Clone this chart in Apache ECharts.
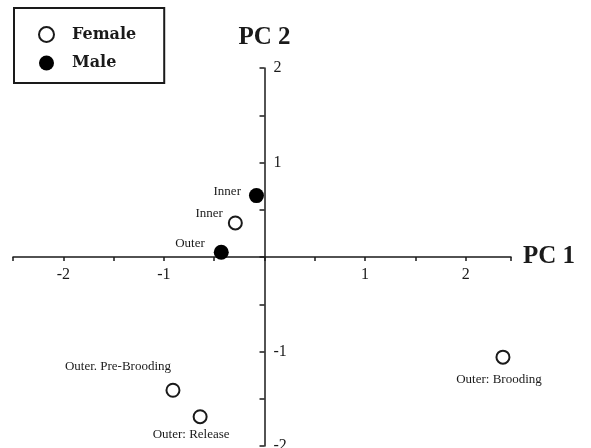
<!DOCTYPE html>
<html>
<head>
<meta charset="utf-8">
<script src="https://cdn.jsdelivr.net/npm/echarts@6/dist/echarts.min.js"></script>
<style>
  html, body { margin: 0; padding: 0; background: #fff; }
  #chart { width: 591px; height: 448px; }
</style>
</head>
<body>
<div id="chart"></div>
<script>
// PCA scores
const femaleNames = ['Inner', 'Outer. Pre-Brooding', 'Outer: Release', 'Outer: Brooding']
const femaleX = [-0.29, -0.91, -0.64, 2.37]
const femaleY = [0.36, -1.41, -1.69, -1.06]

const maleNames = ['Inner', 'Outer']
const maleX = [-0.08, -0.43]
const maleY = [0.65, 0.05]

// where each point's caption sits
const femaleLabelPos = [
  { position: 'left', distance: 5, offset: [0, -9] },
  { position: 'top', distance: 10, offset: [-55, 0] },
  { position: 'bottom', distance: 4, offset: [-9, 0] },
  { position: 'bottom', distance: 8, offset: [-4, 0] }
]
const maleLabelPos = [
  { position: 'left', distance: 8, offset: [0, -4] },
  { position: 'left', distance: 9, offset: [0, -9] }
]

const serif = '"Liberation Serif", "Times New Roman", serif'
const ink = '#1a1a1a'

// plot box in pixels; axes cross at (0, 0) inside it
const gridBox = { left: 13, right: 80, top: 68, bottom: 2 }
const xMin = -2.5, xMax = 2.45, yMin = -2, yMax = 2
const plotW = 591 - gridBox.left - gridBox.right
const plotH = 448 - gridBox.top - gridBox.bottom
const xAxisShift = -plotH * (0 - yMin) / (yMax - yMin)
const yAxisShift = -plotW * (0 - xMin) / (xMax - xMin)

const buildData = (names, xs, ys, pos) =>
  names.map((name, i) => ({
    name,
    value: [xs[i], ys[i]],
    label: { show: true, formatter: name, ...pos[i] }
  }))

const tickFormatter = v => (Number.isInteger(v) && v !== 0 ? String(v) : '')

const chart = echarts.init(document.getElementById('chart'))

chart.setOption({
  backgroundColor: '#fff',
  animation: false,
  legend: {
    orient: 'vertical',
    left: 14,
    top: 8,
    padding: [18, 28, 12, 24],
    itemGap: 12,
    itemWidth: 15,
    itemHeight: 15,
    borderColor: ink,
    borderWidth: 2,
    data: ['Female', 'Male'],
    textStyle: { fontFamily: '"DejaVu Serif", serif', fontWeight: 'bold', fontSize: 16, color: ink, padding: [0, 0, 0, 13] }
  },
  grid: { ...gridBox, containLabel: false, outerBoundsMode: 'none' },
  xAxis: {
    type: 'value',
    min: xMin,
    max: xMax,
    interval: 0.5,
    offset: xAxisShift,
    name: 'PC 1',
    nameLocation: 'end',
    nameGap: 12,
    nameTextStyle: { fontFamily: serif, fontWeight: 'bold', fontSize: 25, color: ink },
    axisLine: { onZero: false, lineStyle: { color: ink, width: 1.5 } },
    axisTick: { length: 4, lineStyle: { color: ink, width: 1.5 } },
    axisLabel: { formatter: tickFormatter, fontFamily: serif, fontSize: 16, color: ink, margin: 10 },
    splitLine: { show: false }
  },
  yAxis: {
    type: 'value',
    min: yMin,
    max: yMax,
    interval: 0.5,
    offset: yAxisShift,
    name: 'PC 2',
    nameLocation: 'end',
    nameGap: 18,
    nameTextStyle: { fontFamily: serif, fontWeight: 'bold', fontSize: 25, color: ink },
    axisLine: { onZero: false, lineStyle: { color: ink, width: 1.5 } },
    axisTick: { length: 5, lineStyle: { color: ink, width: 1.5 } },
    axisLabel: { inside: true, formatter: tickFormatter, fontFamily: serif, fontSize: 16, color: ink, margin: 9 },
    splitLine: { show: false }
  },
  series: [
    {
      name: 'Female',
      type: 'scatter',
      symbol: 'circle',
      symbolSize: 13,
      itemStyle: { color: '#fff', borderColor: ink, borderWidth: 2, opacity: 1 },
      label: { fontFamily: serif, fontSize: 13, color: ink },
      data: buildData(femaleNames, femaleX, femaleY, femaleLabelPos)
    },
    {
      name: 'Male',
      type: 'scatter',
      symbol: 'circle',
      symbolSize: 15,
      itemStyle: { color: '#000', opacity: 1 },
      label: { fontFamily: serif, fontSize: 13, color: ink },
      data: buildData(maleNames, maleX, maleY, maleLabelPos)
    }
  ]
})
</script>
</body>
</html>
